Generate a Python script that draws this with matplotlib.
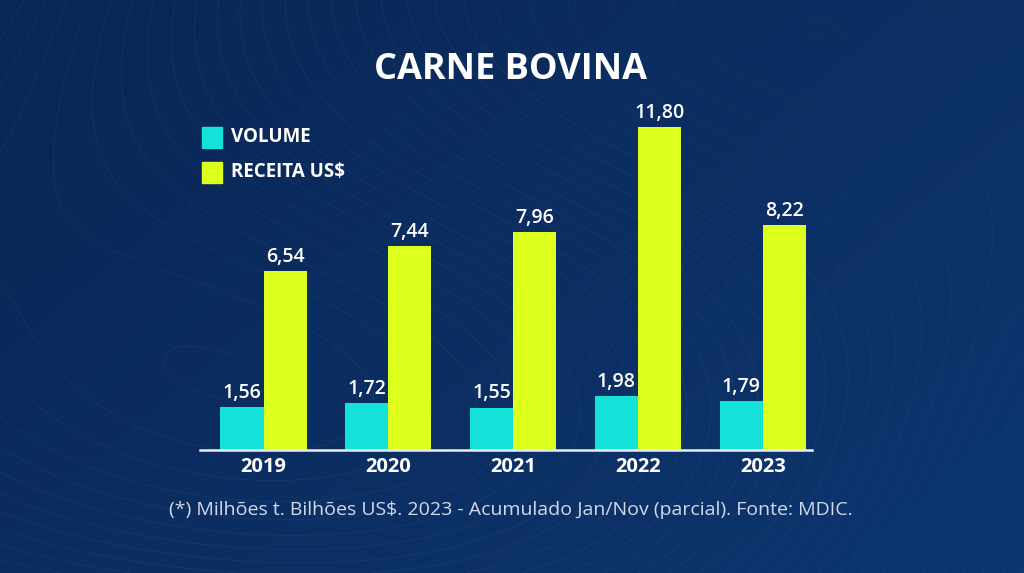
import numpy as np
import matplotlib.pyplot as plt
from matplotlib.patches import Rectangle
from matplotlib.colors import LinearSegmentedColormap

# dados do gráfico (milhões t / bilhões US$)
anos = ['2019', '2020', '2021', '2022', '2023']
volume = [1.56, 1.72, 1.55, 1.98, 1.79]
receita = [6.54, 7.44, 7.96, 11.80, 8.22]
rotulos_volume = ['1,56', '1,72', '1,55', '1,98', '1,79']
rotulos_receita = ['6,54', '7,44', '7,96', '11,80', '8,22']

cor_volume = '#14e2d8'
cor_receita = '#dcff1e'
fonte = ['Open Sans', 'DejaVu Sans']

W, H = 1024, 573
fig = plt.figure(figsize=(W / 100, H / 100), dpi=100)

# fundo azul com leve gradiente e linhas de contorno suaves
bg = fig.add_axes([0, 0, 1, 1])
yy, xx = np.mgrid[0:1:200j, 0:1:360j]
grad = 0.6 * xx + 0.4 * (1 - yy)
bg.imshow(grad, extent=[0, 1, 0, 1], cmap=LinearSegmentedColormap.from_list(
    'fundo', ['#0a2654', '#0d3670']), aspect='auto', origin='lower')
campo = np.sin(3.0 * xx + 2.5 * yy) + 0.6 * np.cos(4.0 * yy - 2.0 * xx) + 1.8 * yy - 1.2 * xx
bg.contour(xx, yy, campo, levels=40, colors='white', linewidths=0.5, alpha=0.06)
bg.set_xlim(0, 1)
bg.set_ylim(0, 1)
bg.axis('off')

# eixo das barras em coordenadas de pixel
x0, x1 = 200, 812
y_base, y_top = 450, 100
ax = fig.add_axes([x0 / W, 1 - y_base / H, (x1 - x0) / W, (y_base - y_top) / H])
ax.set_facecolor('none')

pos = np.arange(len(anos))
larg = 0.345
ax.bar(pos - larg / 2, volume, width=larg, color=cor_volume, zorder=2)
ax.bar(pos + larg / 2, receita, width=larg, color=cor_receita, zorder=2)

for i in range(len(anos)):
    ax.annotate(rotulos_volume[i], (pos[i] - larg / 2, volume[i]), xytext=(0, 3),
                textcoords='offset points', ha='center', va='bottom', color='white',
                fontsize=14, family=fonte, fontweight='semibold')
    ax.annotate(rotulos_receita[i], (pos[i] + larg / 2, receita[i]), xytext=(0, 3),
                textcoords='offset points', ha='center', va='bottom', color='white',
                fontsize=14, family=fonte, fontweight='semibold')

ax.set_xlim(-0.509, 4.395)
ax.set_ylim(0, 350 / 27.4)
ax.set_xticks(pos)
ax.set_xticklabels(anos, color='white', fontsize=14.5, fontweight='bold', family=fonte)
ax.tick_params(axis='x', length=0, pad=5)
ax.set_yticks([])
for lado in ['top', 'right', 'left']:
    ax.spines[lado].set_visible(False)
ax.spines['bottom'].set_color('#e8eef8')
ax.spines['bottom'].set_linewidth(1.8)

# título
fig.text(511 / W, 1 - 70 / H, 'CARNE BOVINA', ha='center', va='center', color='white',
         fontsize=26, fontweight='bold', family=fonte)

# legenda
for cor, nome, yc in [(cor_volume, 'VOLUME', 137), (cor_receita, 'RECEITA US$', 172)]:
    fig.patches.append(Rectangle((202 / W, 1 - (yc + 10.5) / H), 20 / W, 21 / H,
                                 transform=fig.transFigure, color=cor))
    fig.text(231 / W, 1 - yc / H, nome, ha='left', va='center', color='white',
             fontsize=13.5, fontweight='bold', family=fonte)

# nota de rodapé
fig.text(511 / W, 1 - 510 / H,
         '(*) Milhões t. Bilhões US$. 2023 - Acumulado Jan/Nov (parcial). Fonte: MDIC.',
         ha='center', va='center', color='#d2dae8', fontsize=14, family=fonte)

fig.savefig('out.png', dpi=100, facecolor='#0b2f60')
